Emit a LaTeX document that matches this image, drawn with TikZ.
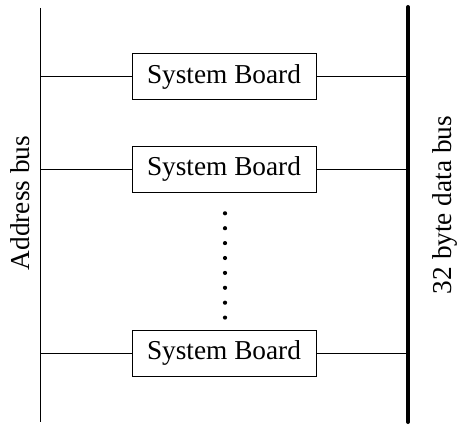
\documentclass[tikz,border=0pt]{standalone}
\usepackage{fontspec}
\setmainfont{Liberation Serif}
\usetikzlibrary{positioning}

\tikzset{
    board/.style={draw, line width=1pt, fill=white, minimum width=184pt, minimum height=46pt,
        inner sep=0pt, font=\fontsize{27.3}{30}\selectfont},
    buslabel/.style={rotate=90, font=\fontsize{27.3}{30}\selectfont}
}

\begin{document}
\begin{tikzpicture}[x=1pt, y=-1pt, line width=1pt]
        \useasboundingbox (0,0) rectangle (460,425);
        % the two buses
        \coordinate (abtop) at (40,8);
        \coordinate (abbot) at (40,422);
        \coordinate (dbtop) at (408,7);
        \coordinate (dbbot) at (408,422);
        \draw (abtop) -- (abbot);
        \draw[line width=4pt, line cap=round] (dbtop) -- (dbbot);
        % boards
        \node[board] (board1) at (224,77) {System Board};
        \node[board] (board2) at (224,169) {System Board};
        \node[board] (board3) at (224,353) {System Board};
        \foreach \b in {board1, board2, board3} {
            \draw (abtop |- \b.west) -- (\b.west);
            \draw (\b.east) -- (dbtop |- \b.east);
        }
        % dots between boards
        \foreach \i in {0,...,7}
            \fill (225,213.3+14.9*\i) circle (2.1pt);
        \node[buslabel] (addrbus) at (20,203) {Address bus};
        \node[buslabel] (databus) at (445,205) {32 byte data bus};
    \end{tikzpicture}
\end{document}
